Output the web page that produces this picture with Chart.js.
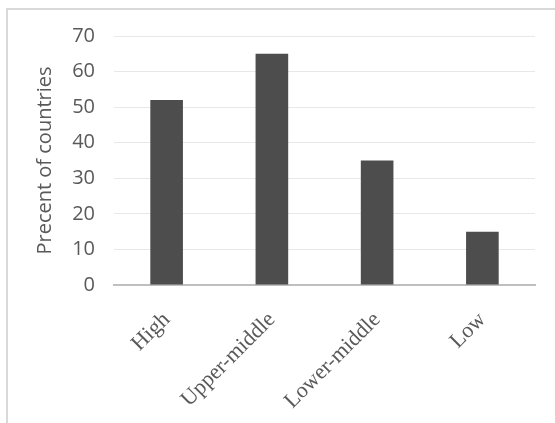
<!DOCTYPE html>
<html>
<head>
<meta charset="utf-8">
<script src="https://cdn.jsdelivr.net/npm/chart.js@4"></script>
<style>
  html, body { margin: 0; padding: 0; background: #fff; }
  #wrap { width: 555px; height: 423px; position: relative; }
</style>
</head>
<body>
<div id="wrap"><canvas id="myChart"></canvas></div>
<script>
const categories = ['High', 'Upper-middle', 'Lower-middle', 'Low'];
const percentValues = [52, 65, 35, 15];
const yTicks = [0, 10, 20, 30, 40, 50, 60, 70];

// light frame round the chart, top and left edges only
const framePlugin = {
  id: 'frame',
  beforeDraw(chart) {
    const c = chart.ctx;
    c.save();
    c.strokeStyle = '#d9d9d9';
    c.lineWidth = 2;
    c.beginPath();
    c.moveTo(7, 423);
    c.lineTo(7, 9);
    c.lineTo(555, 9);
    c.stroke();
    c.restore();
  }
};

const ctx = document.getElementById('myChart');

const myChart = new Chart(ctx, {
  type: 'bar',
  data: {
    labels: categories,
    datasets: [{
      data: percentValues,
      backgroundColor: '#4d4d4d',
      borderWidth: 0,
      categoryPercentage: 1,
      barPercentage: 0.31
    }]
  },
  options: {
    responsive: true,
    maintainAspectRatio: false,
    animation: false,
    layout: {
      padding: { top: 36, right: 20, left: 0, bottom: 0 }
    },
    plugins: {
      legend: { display: false },
      tooltip: { enabled: false }
    },
    scales: {
      x: {
        grid: { display: false, drawTicks: false },
        border: { color: '#bfbfbf', width: 2 },
        ticks: {
          color: '#595959',
          font: { family: 'Liberation Serif', size: 22 },
          minRotation: 45,
          maxRotation: 45,
          padding: 22
        },
        afterFit(scale) { scale.height = 423 - 285; }
      },
      y: {
        min: 0,
        max: 70,
        afterBuildTicks(scale) { scale.ticks = yTicks.map(v => ({ value: v })); },
        grid: { color: '#e8e8e8', lineWidth: 1, drawTicks: false },
        border: { display: false },
        ticks: {
          color: '#595959',
          font: { family: 'Open Sans', size: 20 },
          padding: 19
        },
        title: {
          display: true,
          text: 'Precent of countries',
          color: '#595959',
          font: { family: 'Open Sans', size: 20 },
          padding: { top: 33, bottom: 0 }
        },
        afterFit(scale) { scale.width = 114; }
      }
    }
  },
  plugins: [framePlugin]
});
</script>
</body>
</html>
